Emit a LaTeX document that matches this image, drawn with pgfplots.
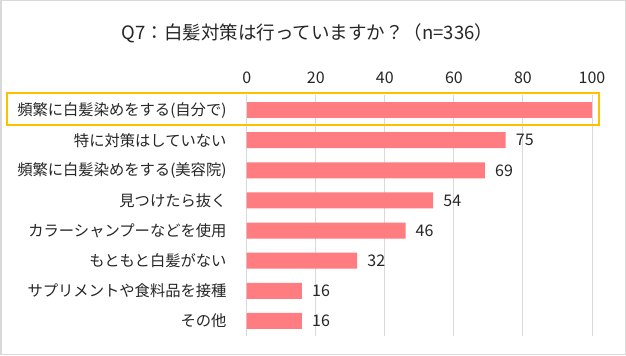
\documentclass[border=0pt]{standalone}
\usepackage{fontspec}
\setmainfont{Noto Sans CJK JP}
\usepackage{pgfplots}
\pgfplotsset{compat=1.18}
\definecolor{barpink}{HTML}{FF7C80}
\definecolor{hlgold}{HTML}{FFC000}
\definecolor{gridgray}{HTML}{D9D9D9}
\definecolor{txt}{HTML}{262626}
\begin{document}
\begin{tikzpicture}[x=1bp,y=1bp]
\useasboundingbox (0,0) rectangle (626,355);
\fill[white] (0,0) rectangle (626,355);
\draw[gridgray, line width=1.5bp] (0.75,0.75) rectangle (625.25,354.25);
\node[font=\fontsize{18.5bp}{22bp}\selectfont, text=txt] at (307.5,322) {Q7：白髪対策は行っていますか？（n=336）};
\begin{axis}[
  at={(246.7bp,19bp)}, anchor=south west,
  scale only axis, width=345.3bp, height=241bp,
  xmin=0, xmax=100, ymin=0.5, ymax=8.5,
  y dir=reverse,
  xtick={0,20,40,60,80,100},
  ytick={1,2,3,4,5,6,7,8},
  yticklabels={頻繁に白髪染めをする(自分で),特に対策はしていない,頻繁に白髪染めをする(美容院),見つけたら抜く,カラーシャンプーなどを使用,もともと白髪がない,サプリメントや食料品を接種,その他},
  xticklabel pos=upper,
  axis line style={draw=none},
  tick style={draw=none},
  major tick length=0pt,
  xmajorgrids, grid style={gridgray, line width=1bp},
  /pgf/number format/assume math mode=true,
  tick label style={font=\fontsize{15.3bp}{18bp}\selectfont, text=txt},
  xticklabel style={font=\fontsize{16bp}{18bp}\selectfont, anchor=center, inner sep=0pt, yshift=17bp},
  yticklabel style={anchor=east, inner sep=0pt, xshift=-20bp},
  clip=false,
]
\addplot[xbar, bar width=16bp, bar shift=0pt, fill=barpink, draw=none] coordinates {(100,1)};
\addplot[xbar, bar width=16bp, bar shift=0pt, fill=barpink, draw=none,
  nodes near coords, point meta=explicit symbolic,
  every node near coord/.append style={font=\fontsize{16bp}{18bp}\selectfont, text=txt, anchor=west, inner sep=0pt, xshift=10bp}]
  coordinates {(75,2)[75] (69,3)[69] (54,4)[54] (46,5)[46] (32,6)[32] (16,7)[16] (16,8)[16]};
\end{axis}
\draw[hlgold, line width=2.5bp] (7,262) rectangle (599,230);
\end{tikzpicture}
\end{document}
